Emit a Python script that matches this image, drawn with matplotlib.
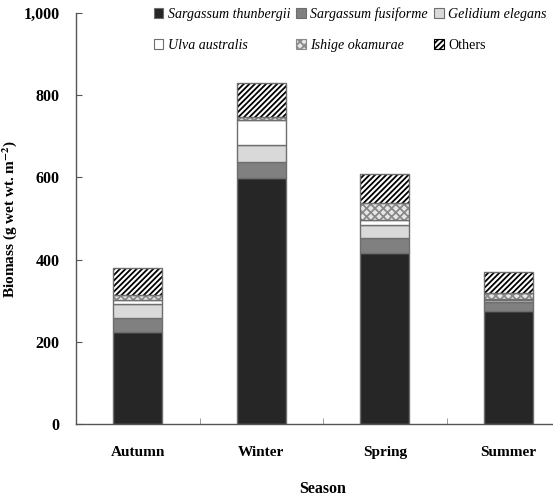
import numpy as np
import matplotlib.pyplot as plt
from matplotlib.patches import Patch

plt.rcParams['font.family'] = ['Liberation Serif', 'DejaVu Serif']
plt.rcParams['hatch.linewidth'] = 1.3
plt.rcParams['mathtext.fontset'] = 'stix'

seasons = ['Autumn', 'Winter', 'Spring', 'Summer']
species = ['Sargassum thunbergii', 'Sargassum fusiforme', 'Gelidium elegans',
           'Ulva australis', 'Ishige okamurae', 'Others']

# biomass (g wet wt. m-2)
thunbergii = [225, 598, 416, 274]
fusiforme = [32, 40, 37, 24]
gelidium = [35, 41, 32, 3]
ulva = [10, 60, 12, 2]
ishige = [12, 8, 40, 16]
others = [66, 83, 71, 50]

series = [thunbergii, fusiforme, gelidium, ulva, ishige, others]
faces = ['#262626', '#808080', '#d9d9d9', 'white', '#e6e6e6', 'white']
hatches = [None, None, None, None, 'xxxx', '//////']
hatch_cols = [None, None, None, None, '#8a8a8a', 'black']
edge = '#6e6e6e'

fig = plt.figure(figsize=(5.53, 4.99), dpi=100)
ax = fig.add_axes([76 / 553, 75 / 499, 494 / 553, 411 / 499])

x = np.arange(len(seasons))
w = 0.4
bottom = np.zeros(len(seasons))
handles = []
for vals, fc, h, hc, name in zip(series, faces, hatches, hatch_cols, species):
    vals = np.array(vals, dtype=float)
    if h:
        ax.bar(x, vals, w, bottom=bottom, color=fc, edgecolor=hc, hatch=h, linewidth=0)
        ax.bar(x, vals, w, bottom=bottom, fill=False, edgecolor=edge, linewidth=1)
        handles.append(Patch(facecolor=fc, edgecolor=hc, hatch=h, linewidth=0.8))
    else:
        ax.bar(x, vals, w, bottom=bottom, color=fc, edgecolor=edge, linewidth=1)
        handles.append(Patch(facecolor=fc, edgecolor=edge, linewidth=0.8))
    bottom += vals

ax.set_xlim(-0.5, 3.5)
ax.set_ylim(0, 1000)
ax.set_yticks([0, 200, 400, 600, 800, 1000])
ax.set_yticklabels(['0', '200', '400', '600', '800', '1,000'], fontweight='bold', fontsize=11.5)
ax.set_xticks(x)
ax.set_xticklabels(seasons, fontweight='bold', fontsize=11)
ax.tick_params(axis='x', length=0, pad=16)
ax.set_xticks([0.5, 1.5, 2.5], minor=True)
ax.tick_params(axis='x', which='minor', direction='in', length=4, color='#888888')
ax.tick_params(axis='y', direction='in', length=4, color='#555555', pad=12)
for s in ['top', 'right']:
    ax.spines[s].set_visible(False)
for s in ['left', 'bottom']:
    ax.spines[s].set_color('#555555')
    ax.spines[s].set_linewidth(1)

ax.set_ylabel('Biomass (g wet wt. m$^{\\mathbf{-2}}$)', fontweight='bold', fontsize=11)
ax.yaxis.set_label_coords(-0.115, 0.5)
ax.set_xlabel('Season', fontweight='bold', fontsize=11.5, labelpad=16)

# reorder so rows read across: 1 2 3 / 4 5 6
order = [0, 3, 1, 4, 2, 5]
leg = fig.legend([handles[i] for i in order], [species[i] for i in order], ncol=3,
                 loc='upper left', bbox_to_anchor=(148 / 553, 0.997), frameon=False,
                 fontsize=10.1, handlelength=0.7, handleheight=0.7, handletextpad=0.3,
                 columnspacing=0.45, labelspacing=1.3, borderaxespad=0)
for t in leg.get_texts():
    if t.get_text() != 'Others':
        t.set_fontstyle('italic')

fig.savefig('out.png', dpi=100)
